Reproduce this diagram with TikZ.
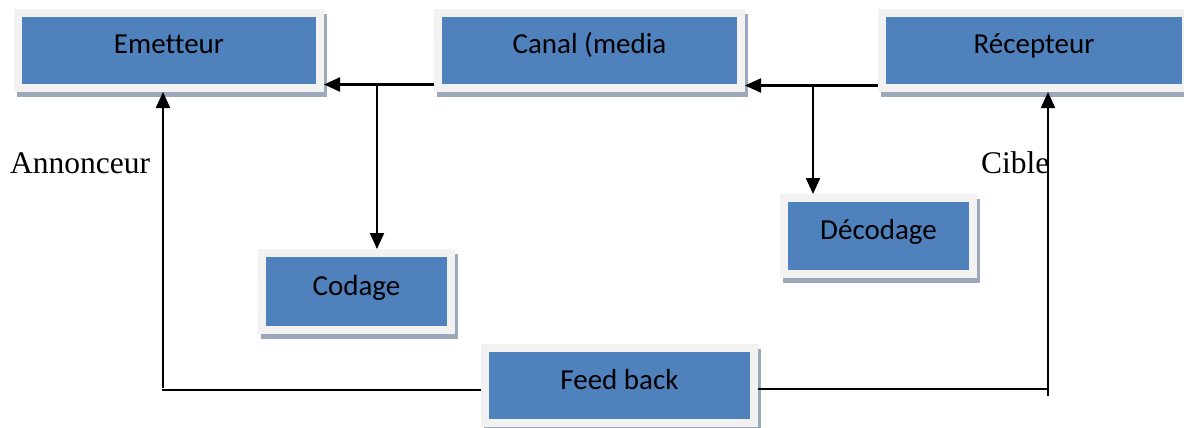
\documentclass[tikz,border=0pt]{standalone}
\usepackage{fontspec}
\setmainfont{Liberation Serif}
\newfontfamily\boxfont{Carlito}[Ligatures={NoCommon}]
\usetikzlibrary{arrows.meta}

\definecolor{boxblue}{HTML}{4F81BD}
\definecolor{framegray}{HTML}{F2F2F2}
\definecolor{shadowgray}{HTML}{9DA9BA}

\tikzset{
  box/.style={
    fill=boxblue, draw=framegray, line width=8pt,
    inner sep=0pt, minimum height=75pt,
    text height=20pt, text depth=13pt,
    font=\boxfont\fontsize{29}{29}\selectfont, text=black,
    preaction={draw=shadowgray, fill=shadowgray, line width=8pt,
               transform canvas={shift={(3pt,-5pt)}}}
  },
  conn/.style={draw=black, line width=2.2pt},
  arr/.style={conn, -{Triangle[length=16pt,width=14pt]}},
  lbl/.style={font=\fontsize{31.5}{31.5}\selectfont, inner sep=0pt, anchor=base west}
}

\begin{document}
\begin{tikzpicture}[x=1pt, y=-1pt]
  \useasboundingbox[fill=white] (0,0) rectangle (1184,428);

  % boxes
  \node[box, minimum width=302pt] (emetteur)  at (169,50.5)   {Emetteur};
  \node[box, minimum width=303pt] (canal)     at (589.5,50.5) {Canal (media};
  \node[box, minimum width=304pt] (recepteur) at (1034,50.5)  {Récepteur};
  \node[box, minimum width=189pt, minimum height=77pt] (codage)   at (356.5,291.5) {Codage};
  \node[box, minimum width=189pt, minimum height=76pt] (decodage) at (878.5,236)   {Décodage};
  \node[box, minimum width=269pt] (feedback) at (619.5,385.5) {Feed back};

  % side labels
  \node[lbl] (annonceur) at (10,173)  {Annonceur};
  \node[lbl] (cible)     at (981,173) {Cible};

  % reference levels and branch points
  \coordinate (lvlA) at (0,84.5);
  \coordinate (lvlB) at (0,85.5);
  \coordinate (brA)  at (377,84.5);
  \coordinate (brB)  at (813,85.5);
  \coordinate (fbL)  at (163,390);
  \coordinate (fbLup) at (163,388);
  \coordinate (fbR)  at (1048,389);
  \coordinate (fbRlow) at (1048,396);

  % message chain
  \draw[arr] (canal.west |- lvlA) -- (emetteur.east |- lvlA);
  \draw[arr] (brA) -- (brA |- codage.north);
  \draw[arr] (recepteur.west |- lvlB) -- (canal.east |- lvlB);
  \draw[arr] (brB) -- (brB |- decodage.north);

  % feedback loop
  \draw[conn] (feedback.west |- fbL) -- ([xshift=-1pt]fbL);
  \draw[arr] (fbLup) -- (fbLup |- emetteur.south);
  \draw[conn] (feedback.east |- fbR) -- (fbR);
  \draw[arr] (fbRlow) -- (fbRlow |- recepteur.south);
\end{tikzpicture}
\end{document}
